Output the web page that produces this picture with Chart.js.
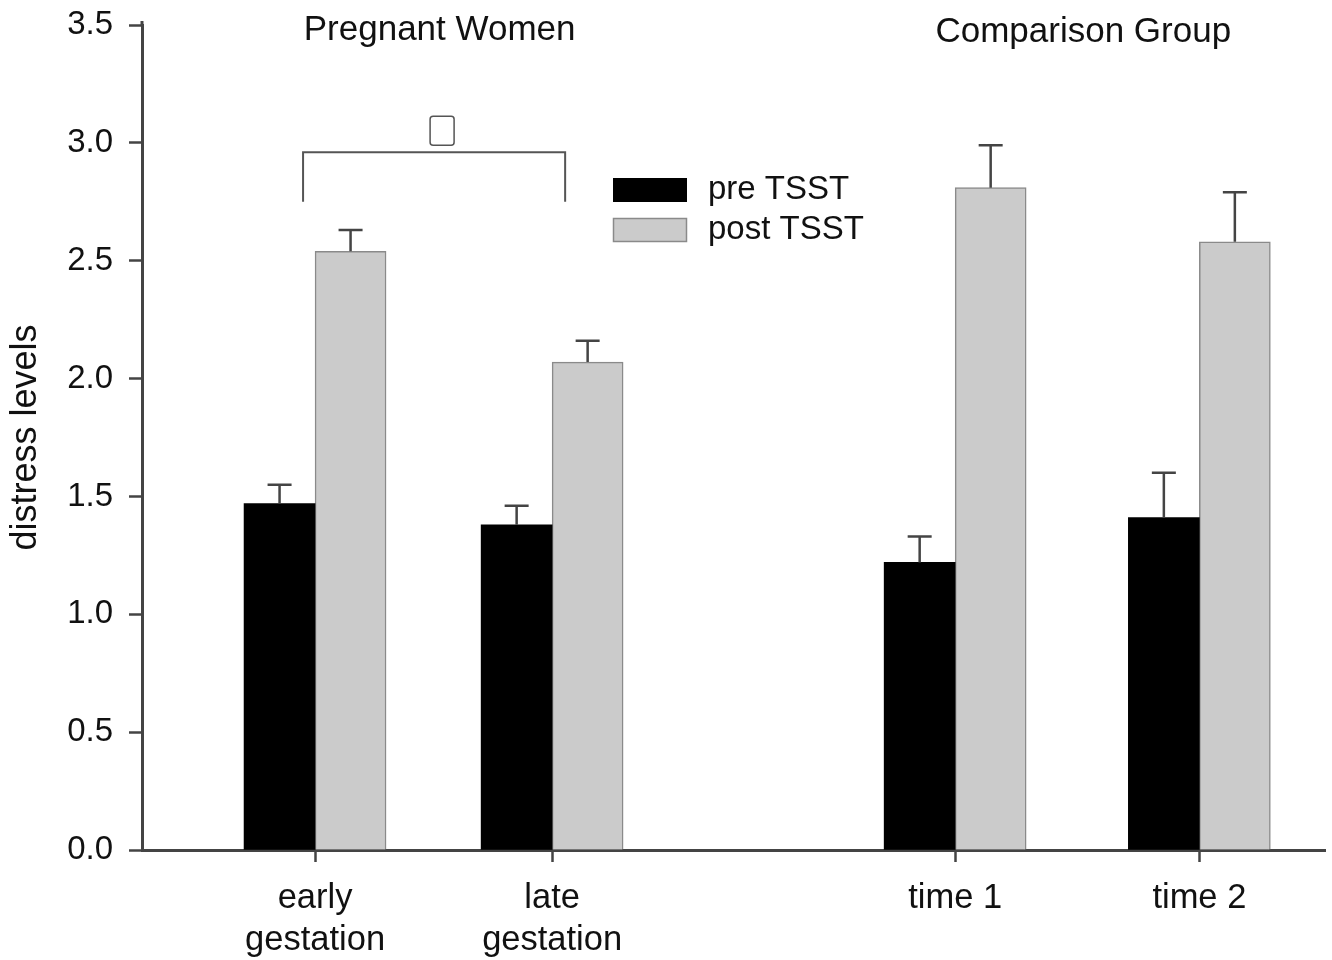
<!DOCTYPE html>
<html>
<head>
<meta charset="utf-8">
<script src="https://cdn.jsdelivr.net/npm/chart.js@4/dist/chart.umd.min.js"></script>
<style>
  html, body { margin: 0; padding: 0; background: #fff; }
</style>
</head>
<body>
<canvas id="chart" width="1332" height="960"></canvas>
<script>
// data
const groups = [["early", "gestation"], ["late", "gestation"], "time 1", "time 2"];
const groupTitles = ["Pregnant Women", "Comparison Group"];
const preTSST = [1.47, 1.38, 1.22, 1.41];
const postTSST = [2.54, 2.07, 2.81, 2.58];
const preErrTop = [1.55, 1.46, 1.33, 1.60];
const postErrTop = [2.63, 2.16, 2.99, 2.79];
const yTicks = [0, 0.5, 1.0, 1.5, 2.0, 2.5, 3.0, 3.5];

// where each group sits on the x axis (wider gap between the two study groups)
const slots = [1, 2, 3.7, 4.73];

const FONT = "'Liberation Sans', Arial, sans-serif";
const AXIS = "#444";
Chart.defaults.font.family = FONT;
Chart.defaults.color = "#111";

const errorBars = {
  id: "errorBars",
  afterDatasetsDraw(chart) {
    const { ctx, scales: { y } } = chart;
    ctx.save();
    ctx.strokeStyle = AXIS;
    ctx.lineWidth = 2.5;
    chart.data.datasets.forEach((ds, di) => {
      chart.getDatasetMeta(di).data.forEach((bar, i) => {
        const top = y.getPixelForValue(ds.errTop[i]);
        ctx.beginPath();
        ctx.moveTo(bar.x, bar.y);
        ctx.lineTo(bar.x, top);
        ctx.moveTo(bar.x - 12, top);
        ctx.lineTo(bar.x + 12, top);
        ctx.stroke();
      });
    });
    ctx.restore();
  }
};

const extras = {
  id: "extras",
  afterDraw(chart) {
    const { ctx, chartArea, scales: { x, y } } = chart;
    const px = v => x.getPixelForValue(v);
    ctx.save();

    // y axis line runs a little past the top tick
    ctx.strokeStyle = AXIS;
    ctx.lineWidth = 3;
    ctx.beginPath();
    ctx.moveTo(chartArea.left, chartArea.top);
    ctx.lineTo(chartArea.left, chartArea.top - 4);
    ctx.stroke();

    // group headings
    ctx.fillStyle = "#111";
    ctx.font = "35px " + FONT;
    ctx.textAlign = "center";
    ctx.textBaseline = "middle";
    ctx.fillText(groupTitles[0], (px(slots[0]) + px(slots[1])) / 2 + 6, 30);
    ctx.fillText(groupTitles[1], (px(slots[2]) + px(slots[3])) / 2 + 6, 32);

    // significance bracket
    const x1 = px(slots[0]) - 12, x2 = px(slots[1]) + 13;
    const yTop = y.getPixelForValue(2.96), yBot = y.getPixelForValue(2.75);
    ctx.strokeStyle = "#555";
    ctx.lineWidth = 2;
    ctx.beginPath();
    ctx.moveTo(x1, yBot);
    ctx.lineTo(x1, yTop);
    ctx.lineTo(x2, yTop);
    ctx.lineTo(x2, yBot);
    ctx.stroke();
    const bx = (x1 + x2) / 2 + 8;
    ctx.lineWidth = 1.5;
    ctx.beginPath();
    ctx.roundRect(bx - 12, yTop - 36, 24, 29, 3);
    ctx.stroke();

    // legend
    ctx.font = "33px " + FONT;
    chart.data.datasets.forEach((ds, i) => {
      const top = 178 + i * 40;
      ctx.fillStyle = ds.backgroundColor;
      ctx.fillRect(613, top, 74, 24);
      if (ds.borderWidth) {
        ctx.strokeStyle = ds.borderColor;
        ctx.lineWidth = 1.5;
        ctx.strokeRect(613.5, top + 0.5, 73, 23);
      }
      ctx.fillStyle = "#111";
      ctx.textAlign = "left";
      ctx.fillText(ds.label, 708, top + 12);
    });
    ctx.restore();
  }
};

new Chart(document.getElementById("chart"), {
  type: "bar",
  data: {
    datasets: [
      {
        label: "pre TSST",
        data: preTSST.map((v, i) => ({ x: slots[i], y: v })),
        errTop: preErrTop,
        backgroundColor: "#000",
        borderWidth: 0
      },
      {
        label: "post TSST",
        data: postTSST.map((v, i) => ({ x: slots[i], y: v })),
        errTop: postErrTop,
        backgroundColor: "#cbcbcb",
        borderColor: "#8a8a8a",
        borderWidth: 1.5
      }
    ]
  },
  options: {
    responsive: false,
    animation: false,
    barThickness: 71,
    layout: { padding: { top: 25, right: 7, left: 0, bottom: 0 } },
    plugins: { legend: { display: false }, tooltip: { enabled: false } },
    scales: {
      x: {
        type: "linear",
        min: 0.27,
        max: 5.26,
        offset: false,
        afterBuildTicks: s => { s.ticks = slots.map(v => ({ value: v })); },
        afterFit: s => { s.height = 110; },
        ticks: {
          callback: (v, i) => groups[i],
          font: { size: 34.5 },
          color: "#111",
          padding: 16,
          maxRotation: 0,
          autoSkip: false
        },
        grid: { offset: false, drawOnChartArea: false, tickLength: 12, tickColor: AXIS, tickWidth: 2.5 },
        border: { color: AXIS, width: 3 }
      },
      y: {
        min: 0,
        max: 3.5,
        afterBuildTicks: s => { s.ticks = yTicks.map(v => ({ value: v })); },
        afterFit: s => { s.width = 142; s.paddingTop = 0; s.paddingBottom = 0; },
        ticks: {
          callback: v => v.toFixed(1),
          font: { size: 33 },
          color: "#111",
          padding: 16
        },
        grid: { drawOnChartArea: false, tickLength: 13, tickColor: AXIS, tickWidth: 2.5 },
        border: { color: AXIS, width: 3 },
        title: {
          display: true,
          text: "distress levels",
          font: { size: 36 },
          color: "#111",
          padding: { top: 4, bottom: 0 }
        }
      }
    }
  },
  plugins: [errorBars, extras]
});
</script>
</body>
</html>
